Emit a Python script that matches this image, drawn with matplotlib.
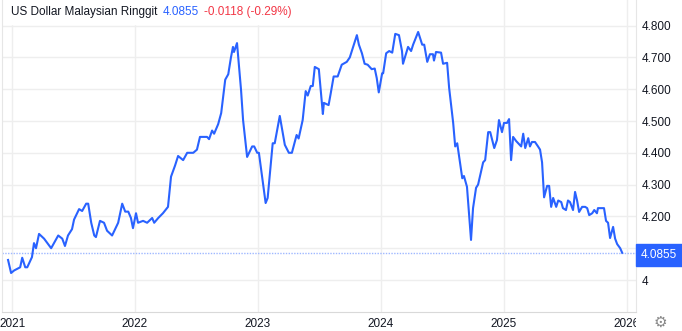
import matplotlib
matplotlib.use('Agg')
import matplotlib.pyplot as plt
import pandas as pd
from matplotlib.patches import Rectangle
from matplotlib.transforms import Bbox, TransformedBbox

plt.rcParams['font.family'] = ['Liberation Sans', 'DejaVu Sans']

# USD/MYR weekly-ish closes
dates = [
    '2020-12-20', '2020-12-29', '2021-01-07', '2021-01-25', '2021-01-31', '2021-02-09',
    '2021-02-15', '2021-03-01', '2021-03-07', '2021-03-13', '2021-03-22', '2021-04-06',
    '2021-04-27', '2021-05-18', '2021-05-30', '2021-06-07', '2021-06-16', '2021-06-28',
    '2021-07-04', '2021-07-19', '2021-07-28', '2021-08-09', '2021-08-15', '2021-08-24',
    '2021-09-02', '2021-09-07', '2021-09-19', '2021-10-01', '2021-10-10', '2021-10-25',
    '2021-11-03', '2021-11-12', '2021-11-24', '2021-12-03', '2021-12-12', '2021-12-20',
    '2021-12-26', '2022-01-04', '2022-01-10', '2022-01-25', '2022-02-06', '2022-02-21',
    '2022-02-27', '2022-03-11', '2022-03-25', '2022-04-09', '2022-04-18', '2022-04-30',
    '2022-05-09', '2022-05-24', '2022-06-05', '2022-06-23', '2022-07-04', '2022-07-13',
    '2022-08-03', '2022-08-09', '2022-08-18', '2022-08-24', '2022-09-05', '2022-09-14',
    '2022-09-26', '2022-10-05', '2022-10-13', '2022-10-19', '2022-10-22', '2022-10-31',
    '2022-11-12', '2022-11-18', '2022-11-30', '2022-12-15', '2022-12-21', '2022-12-30',
    '2023-01-04', '2023-01-13', '2023-01-24', '2023-01-30', '2023-02-14', '2023-02-20',
    '2023-03-07', '2023-03-22', '2023-04-03', '2023-04-12', '2023-04-26', '2023-05-02',
    '2023-05-14', '2023-05-23', '2023-05-29', '2023-06-07', '2023-06-13', '2023-06-19',
    '2023-07-01', '2023-07-13', '2023-07-16', '2023-07-30', '2023-08-05', '2023-08-14',
    '2023-08-26', '2023-09-07', '2023-09-22', '2023-10-01', '2023-10-10', '2023-10-22',
    '2023-10-28', '2023-11-06', '2023-11-14', '2023-11-23', '2023-12-05', '2023-12-14',
    '2023-12-20', '2023-12-26', '2024-01-05', '2024-01-08', '2024-01-17', '2024-01-26',
    '2024-02-04', '2024-02-13', '2024-02-24', '2024-03-04', '2024-03-07', '2024-03-22',
    '2024-03-31', '2024-04-06', '2024-04-21', '2024-05-03', '2024-05-09', '2024-05-18',
    '2024-05-26', '2024-06-04', '2024-06-07', '2024-06-13', '2024-06-28', '2024-07-04',
    '2024-07-16', '2024-07-22', '2024-08-03', '2024-08-09', '2024-08-15', '2024-08-30',
    '2024-09-04', '2024-09-13', '2024-09-25', '2024-10-01', '2024-10-10', '2024-10-16',
    '2024-10-31', '2024-11-06', '2024-11-15', '2024-11-21', '2024-12-03', '2024-12-11',
    '2024-12-17', '2024-12-26', '2025-01-01', '2025-01-10', '2025-01-16', '2025-01-22',
    '2025-01-28', '2025-02-06', '2025-02-12', '2025-02-21', '2025-02-27', '2025-03-05',
    '2025-03-14', '2025-03-19', '2025-03-25', '2025-04-03', '2025-04-12', '2025-04-18',
    '2025-04-24', '2025-04-30', '2025-05-09', '2025-05-15', '2025-05-21', '2025-05-27',
    '2025-06-05', '2025-06-11', '2025-06-20', '2025-06-25', '2025-07-04', '2025-07-10',
    '2025-07-16', '2025-07-25', '2025-07-31', '2025-08-06', '2025-08-12', '2025-08-21',
    '2025-08-30', '2025-09-05', '2025-09-11', '2025-09-20', '2025-09-26', '2025-10-04',
    '2025-10-07', '2025-10-19', '2025-10-25', '2025-10-31', '2025-11-06', '2025-11-12',
    '2025-11-21', '2025-11-27', '2025-12-03', '2025-12-12', '2025-12-18',
]
rates = [
    4.063, 4.022, 4.030, 4.040, 4.070, 4.040,
    4.040, 4.072, 4.116, 4.100, 4.145, 4.130,
    4.100, 4.140, 4.130, 4.107, 4.140, 4.160,
    4.190, 4.223, 4.217, 4.240, 4.240, 4.180,
    4.140, 4.135, 4.186, 4.180, 4.155, 4.140,
    4.160, 4.180, 4.240, 4.215, 4.215, 4.195,
    4.163, 4.210, 4.180, 4.186, 4.180, 4.195,
    4.180, 4.195, 4.210, 4.230, 4.325, 4.360,
    4.390, 4.377, 4.400, 4.400, 4.410, 4.450,
    4.450, 4.443, 4.470, 4.460, 4.490, 4.525,
    4.630, 4.647, 4.700, 4.733, 4.717, 4.745,
    4.597, 4.503, 4.387, 4.420, 4.420, 4.400,
    4.400, 4.330, 4.242, 4.258, 4.430, 4.430,
    4.516, 4.425, 4.400, 4.400, 4.456, 4.445,
    4.503, 4.594, 4.580, 4.610, 4.610, 4.670,
    4.663, 4.522, 4.557, 4.550, 4.585, 4.640,
    4.640, 4.677, 4.686, 4.700, 4.730, 4.770,
    4.740, 4.713, 4.680, 4.677, 4.663, 4.665,
    4.635, 4.590, 4.650, 4.650, 4.713, 4.720,
    4.715, 4.774, 4.770, 4.720, 4.680, 4.733,
    4.720, 4.740, 4.780, 4.740, 4.740, 4.686,
    4.710, 4.710, 4.690, 4.717, 4.715, 4.680,
    4.683, 4.604, 4.494, 4.420, 4.430, 4.320,
    4.327, 4.293, 4.126, 4.226, 4.290, 4.300,
    4.370, 4.377, 4.465, 4.465, 4.415, 4.440,
    4.503, 4.465, 4.494, 4.494, 4.506, 4.377,
    4.450, 4.437, 4.430, 4.420, 4.460, 4.415,
    4.446, 4.420, 4.434, 4.434, 4.420, 4.410,
    4.370, 4.260, 4.296, 4.296, 4.230, 4.258,
    4.230, 4.250, 4.245, 4.226, 4.220, 4.250,
    4.245, 4.220, 4.277, 4.250, 4.214, 4.230,
    4.230, 4.226, 4.204, 4.210, 4.220, 4.210,
    4.226, 4.226, 4.226, 4.186, 4.180, 4.132,
    4.167, 4.130, 4.113, 4.100, 4.0855,
]

year_ticks = ['2021-01-01', '2022-01-01', '2023-01-01', '2024-01-01', '2025-01-01', '2026-01-01']
year_labels = ['2021', '2022', '2023', '2024', '2025', '2026']
y_ticks = [4.0, 4.1, 4.2, 4.3, 4.4, 4.5, 4.6, 4.7, 4.8]
y_labels = ['4', '4.100', '4.200', '4.300', '4.400', '4.500', '4.600', '4.700', '4.800']

blue = '#2962ff'
W, H = 682, 331

fig = plt.figure(figsize=(W / 100, H / 100), dpi=100)
ax = fig.add_axes([2 / W, 19 / H, 634 / W, 312 / H])

ax.plot(pd.to_datetime(dates), rates, color=blue, lw=1.5, solid_joinstyle='round', zorder=3)
ax.axhline(rates[-1], color='#9fb8ff', lw=1, ls=(0, (1, 1)), zorder=2)

ax.set_xlim(pd.Timestamp('2020-12-02'), pd.Timestamp('2026-01-28'))
ax.set_ylim(3.8994, 4.8805)
ax.set_xticks(pd.to_datetime(year_ticks))
# last year label is drawn separately so it can be cut at the price scale
ax.set_xticklabels(year_labels[:-1] + [''])
ax.set_yticks(y_ticks)
ax.set_yticklabels(y_labels)
ax.yaxis.tick_right()
ax.tick_params(length=0, labelsize=8.5, colors='#131722')
ax.tick_params(axis='x', pad=4)
ax.tick_params(axis='y', pad=4)
ax.grid(color='#eeeeee', lw=1)
ax.spines['top'].set_visible(False)
ax.spines['left'].set_color('#e6e6e6')
ax.spines['right'].set_color('#e6e6e6')
ax.spines['bottom'].set_color('#d9d9d9')

clip = TransformedBbox(Bbox([[0, 0], [636 / W, 1]]), fig.transFigure)
last = ax.text(pd.Timestamp(year_ticks[-1]), -0.02, year_labels[-1],
               transform=ax.get_xaxis_transform(), ha='center', va='top',
               fontsize=8.5, color='#131722', clip_on=True)
last.set_clip_box(clip)

# last value tag on the price scale
fig.patches.append(Rectangle((636 / W, (H - 266) / H), 46 / W, 22 / H,
                             transform=fig.transFigure, color=blue, zorder=5))
fig.text(659 / W, 1 - 255 / H, '4.0855', color='white', fontsize=8.5,
         ha='center', va='center', zorder=6)

# title pieces
fig.patches.append(Rectangle((6 / W, (H - 24) / H), 300 / W, 24 / H,
                             transform=fig.transFigure, color='white', zorder=5))
renderer = fig.canvas.get_renderer()
x = 11
for txt, col in [('US Dollar Malaysian Ringgit', '#131722'), ('4.0855', blue),
                 ('-0.0118 (-0.29%)', '#f23645')]:
    t = fig.text(x / W, 1 - 12 / H, txt, color=col, fontsize=8.5, va='center', zorder=6)
    x += t.get_window_extent(renderer).width + 5

fig.text(660 / W, 1 - 322 / H, '\u2699', color='#888888', fontsize=11,
         ha='center', va='center', family=['DejaVu Sans'])

plt.savefig('out.png', dpi=100)
